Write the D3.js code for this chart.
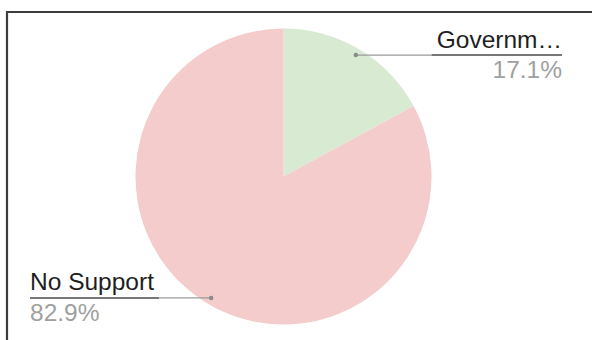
<!DOCTYPE html>
<html>
<head>
<meta charset="utf-8">
<script src="https://cdn.jsdelivr.net/npm/d3@7"></script>
<style>
  html, body { margin: 0; padding: 0; background: #fff; }
  svg { display: block; }
</style>
</head>
<body>
<svg id="chart" width="592" height="340"></svg>
<script>
// Slice labels as shown, their shares (%) and fills
const categories = ["Governm…", "No Support"];
const values = [17.1, 82.9];
const colors = ["#d9ead3", "#f4cccc"];

const W = 592, H = 340;
const cx = 283.5, cy = 176.5, R = 148;

const svg = d3.select("#chart");

// Frame along the top and left edges
svg.append("path")
  .attr("d", `M7,${H} V12 H${W}`)
  .attr("fill", "none")
  .attr("stroke", "#3c3c3c")
  .attr("stroke-width", 2.2);

const pie = d3.pie().sort(null).value(d => d.value);
const data = pie(categories.map((c, i) => ({ name: c, value: values[i], color: colors[i] })));

const arc = d3.arc().innerRadius(0).outerRadius(R);
const dotArc = d3.arc().innerRadius(R * 0.955).outerRadius(R * 0.955);

const g = svg.append("g").attr("transform", `translate(${cx},${cy})`);

g.selectAll("path.slice")
  .data(data)
  .join("path")
  .attr("class", "slice")
  .attr("d", arc)
  .attr("fill", d => d.data.color);

// Leader lines and labels
const font = "'Liberation Sans', Arial, sans-serif";
const fontSize = 24.5;
const leftX = 30 - cx, rightX = 562 - cx;

data.forEach(d => {
  const [px, py] = dotArc.centroid(d);
  const mid = (d.startAngle + d.endAngle) / 2;
  const right = Math.sin(mid) > 0;
  const tx = right ? rightX : leftX;
  const anchor = right ? "end" : "start";

  const lg = g.append("g");

  lg.append("line")
    .attr("x1", px).attr("y1", py)
    .attr("x2", tx).attr("y2", py)
    .attr("stroke", "#9a9a9a")
    .attr("stroke-width", 1.3);

  lg.append("circle")
    .attr("cx", px).attr("cy", py).attr("r", 2.2)
    .attr("fill", "#8a8a8a");

  const name = lg.append("text")
    .attr("x", tx).attr("y", py - 7.5)
    .attr("text-anchor", anchor)
    .attr("font-family", font)
    .attr("font-size", fontSize)
    .attr("fill", "#1e1e1e")
    .text(d.data.name);

  const w = name.node().getComputedTextLength() + 5;
  lg.append("line")
    .attr("x1", right ? tx - w : tx).attr("y1", py)
    .attr("x2", right ? tx : tx + w).attr("y2", py)
    .attr("stroke", "#777")
    .attr("stroke-width", 2);

  lg.append("text")
    .attr("x", tx).attr("y", py + 23)
    .attr("text-anchor", anchor)
    .attr("font-family", font)
    .attr("font-size", fontSize)
    .attr("fill", "#a0a0a0")
    .text(d.data.value.toFixed(1) + "%");
});
</script>
</body>
</html>
